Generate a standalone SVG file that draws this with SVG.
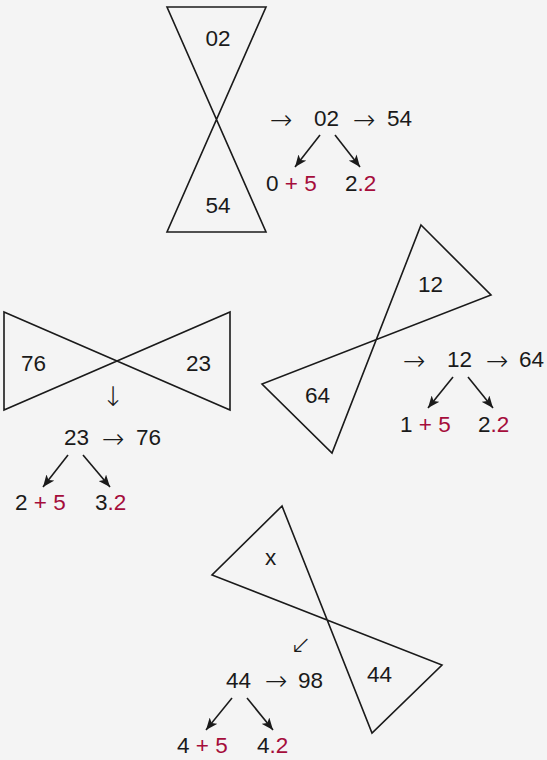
<svg xmlns="http://www.w3.org/2000/svg" width="547" height="760" viewBox="0 0 547 760">
<defs>
<style>
.bg{fill:#f4f4f4}
.shape{fill:none;stroke:#1a1a1a;stroke-width:1.6;stroke-linejoin:miter}
.t{font-family:"Liberation Sans",Arial,Helvetica,sans-serif;font-size:22.5px;fill:#1a1a1a}
.r{fill:#a50d3b}
.ar{font-family:"DejaVu Sans",sans-serif;font-size:27px;font-weight:200;fill:#1a1a1a}
.edge{stroke:#1a1a1a;stroke-width:1.6;fill:none}
</style>
<marker id="ah" viewBox="0 0 12 10" refX="12" refY="5" markerWidth="12" markerHeight="10" markerUnits="userSpaceOnUse" orient="auto">
<path d="M0,0 L12,5 L0,10 L3,5 Z" fill="#1a1a1a"/>
</marker>
</defs>
<rect class="bg" x="0" y="0" width="547" height="760"/>

<g id="node-top">
<polygon class="shape" points="167,7 266,7 167,232 266,232"/>
<text class="t" x="218" y="46" text-anchor="middle">02</text>
<text class="t" x="218" y="213" text-anchor="middle">54</text>
<text class="ar" x="270" y="129">→</text>
<text class="t" x="314" y="126">02</text>
<text class="ar" x="353" y="129">→</text>
<text class="t" x="387" y="126">54</text>
<text class="t" x="266" y="191">0 <tspan class="r">+ 5</tspan></text>
<text class="t" x="345" y="191">2<tspan class="r">.2</tspan></text>
</g>

<g id="node-left">
<polygon class="shape" points="4,312 230,410 230,312 4,410"/>
<text class="t" x="21" y="371">76</text>
<text class="t" x="186" y="371">23</text>
<text class="ar" x="113" y="406" text-anchor="middle">↓</text>
<text class="t" x="64" y="445">23</text>
<text class="ar" x="102" y="448">→</text>
<text class="t" x="136" y="445">76</text>
<text class="t" x="15" y="510">2 <tspan class="r">+ 5</tspan></text>
<text class="t" x="95" y="510">3<tspan class="r">.2</tspan></text>
</g>

<g id="node-right">
<polygon class="shape" points="421,225 491,295 262,384 332,453"/>
<text class="t" x="418" y="292">12</text>
<text class="t" x="305" y="403">64</text>
<text class="ar" x="403" y="370">→</text>
<text class="t" x="447" y="367">12</text>
<text class="ar" x="486" y="370">→</text>
<text class="t" x="519" y="367">64</text>
<text class="t" x="400" y="432">1 <tspan class="r">+ 5</tspan></text>
<text class="t" x="478" y="432">2<tspan class="r">.2</tspan></text>
</g>

<g id="node-bottom">
<polygon class="shape" points="282,506 212,575 442,665 372,733"/>
<text class="t" x="265" y="565">x</text>
<text class="t" x="367" y="682">44</text>
<text class="ar" x="301" y="653" text-anchor="middle" style="font-size:25px">↙</text>
<text class="t" x="226" y="688">44</text>
<text class="ar" x="265" y="690">→</text>
<text class="t" x="298" y="688">98</text>
<text class="t" x="177" y="753">4 <tspan class="r">+ 5</tspan></text>
<text class="t" x="257" y="753">4<tspan class="r">.2</tspan></text>
</g>

<g id="connectors">
<line class="edge" x1="320" y1="135" x2="295" y2="167" marker-end="url(#ah)"/>
<line class="edge" x1="335" y1="135" x2="360" y2="167" marker-end="url(#ah)"/>
<line class="edge" x1="68" y1="455" x2="43" y2="487" marker-end="url(#ah)"/>
<line class="edge" x1="83" y1="455" x2="110" y2="487" marker-end="url(#ah)"/>
<line class="edge" x1="453" y1="377" x2="428" y2="408" marker-end="url(#ah)"/>
<line class="edge" x1="468" y1="377" x2="493" y2="408" marker-end="url(#ah)"/>
<line class="edge" x1="232" y1="698" x2="206" y2="730" marker-end="url(#ah)"/>
<line class="edge" x1="247" y1="698" x2="273" y2="730" marker-end="url(#ah)"/>
</g>
</svg>
